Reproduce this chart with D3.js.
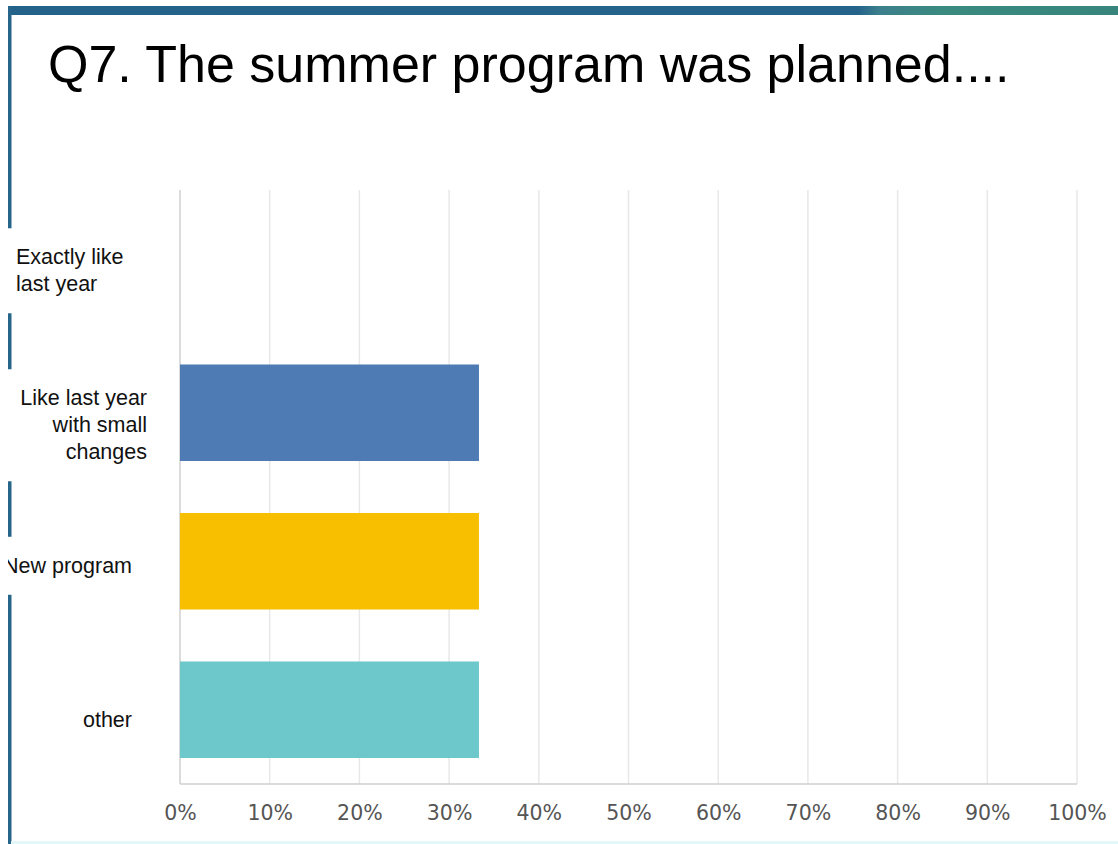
<!DOCTYPE html>
<html>
<head>
<meta charset="utf-8">
<script src="https://cdn.jsdelivr.net/npm/d3@7"></script>
<style>
  html, body { margin: 0; padding: 0; background: #ffffff; }
  svg { display: block; }
</style>
</head>
<body>
<svg id="chart" width="1118" height="844"></svg>
<script>
// Survey question and answer shares (percent of respondents)
const title = "Q7. The summer program was planned....";
const categories = ["Exactly like last year", "Like last year with small changes", "New program", "other"];
const labelLines = [["Exactly like", "last year"], ["Like last year", "with small", "changes"], ["New program"], ["other"]];
const shares = [0, 33.33, 33.33, 33.33];
const barColors = ["#4f7bb5", "#4f7bb5", "#f8bf00", "#6cc8cb"];
const tickValues = [0, 10, 20, 30, 40, 50, 60, 70, 80, 90, 100];

// Label placement: text anchor, horizontal anchor point and vertical nudge per category label
const labelLayout = [
  { anchor: "start", x: 16, dy: 6 },
  { anchor: "end", x: 147, dy: 12 },
  { anchor: "end", x: 132, dy: 4 },
  { anchor: "end", x: 132, dy: 10 }
];

const W = 1118, H = 844;
const plot = { left: 180, right: 1077, top: 190, bottom: 784 };

const svg = d3.select("#chart");

// Slide header band
const defs = svg.append("defs");
const grad = defs.append("linearGradient").attr("id", "band").attr("x1", "0").attr("x2", "1");
grad.append("stop").attr("offset", "0").attr("stop-color", "#24628a");
grad.append("stop").attr("offset", "0.765").attr("stop-color", "#25638a");
grad.append("stop").attr("offset", "0.785").attr("stop-color", "#3d7f8c");
grad.append("stop").attr("offset", "0.84").attr("stop-color", "#3a8a80");
grad.append("stop").attr("offset", "1").attr("stop-color", "#37857c");
svg.append("rect").attr("x", 8).attr("y", 6).attr("width", W - 8).attr("height", 9).attr("fill", "url(#band)");

// Left slide border
svg.append("rect").attr("x", 8).attr("y", 6).attr("width", 3.5).attr("height", H - 6).attr("fill", "#27658a");

// Faint bottom edge
svg.append("rect").attr("x", 11).attr("y", 841).attr("width", W - 11).attr("height", 3).attr("fill", "#e3f6f8");

// Title
svg.append("text")
  .attr("x", 48).attr("y", 82)
  .attr("font-family", "Liberation Sans, Arial, sans-serif")
  .attr("font-size", 52)
  .attr("fill", "#000")
  .text(title);

// Scales
const x = d3.scaleLinear().domain([0, 100]).range([plot.left, plot.right]);
const y = d3.scaleBand().domain(categories).range([plot.top, plot.bottom]).paddingInner(0.35).paddingOuter(0.175);

// Vertical grid
const g = svg.append("g");
g.selectAll("line.grid").data(tickValues).join("line")
  .attr("class", "grid")
  .attr("x1", d => x(d)).attr("x2", d => x(d))
  .attr("y1", plot.top).attr("y2", plot.bottom)
  .attr("stroke", d => d === 0 ? "#cfcfcf" : "#e8e8e8")
  .attr("stroke-width", 1.5);

// Bottom axis line
g.append("line")
  .attr("x1", plot.left).attr("x2", plot.right)
  .attr("y1", plot.bottom).attr("y2", plot.bottom)
  .attr("stroke", "#cfcfcf").attr("stroke-width", 1.5);

// Bars
g.selectAll("rect.bar").data(categories).join("rect")
  .attr("class", "bar")
  .attr("x", x(0))
  .attr("y", d => y(d))
  .attr("width", (d, i) => x(shares[i]) - x(0))
  .attr("height", y.bandwidth())
  .attr("fill", (d, i) => barColors[i]);

// X axis tick labels
const xAxis = d3.axisBottom(x).tickValues(tickValues).tickFormat(d => d + "%").tickSize(0).tickPadding(0);
const ax = svg.append("g").attr("transform", `translate(0, ${plot.bottom + 21})`).call(xAxis);
ax.select(".domain").remove();
ax.selectAll("text")
  .attr("font-family", "DejaVu Sans, sans-serif")
  .attr("font-size", 20.5)
  .attr("fill", "#555");

// Category labels, each masking the slide border where it overlaps
const lineH = 27;
const labels = svg.append("g");
categories.forEach((c, i) => {
  const lines = labelLines[i];
  const lay = labelLayout[i];
  const cy = y(c) + y.bandwidth() / 2 + lay.dy;
  const startY = cy - (lines.length - 1) * lineH / 2;
  const t = labels.append("text")
    .attr("font-family", "Liberation Sans, Arial, sans-serif")
    .attr("font-size", 21.5)
    .attr("fill", "#111")
    .attr("text-anchor", lay.anchor);
  lines.forEach((ln, k) => {
    t.append("tspan").attr("x", lay.x).attr("y", startY + k * lineH).attr("dy", "0.35em").text(ln);
  });
  const bb = t.node().getBBox();
  if (bb.x - 14 < 12) {
    labels.insert("rect", "text")
      .attr("x", 0).attr("y", bb.y - 17)
      .attr("width", 12).attr("height", bb.height + 34)
      .attr("fill", "#fff");
  }
});

// Keep the area left of the border clear
svg.append("rect").attr("x", 0).attr("y", 0).attr("width", 8).attr("height", H).attr("fill", "#fff");
</script>
</body>
</html>
